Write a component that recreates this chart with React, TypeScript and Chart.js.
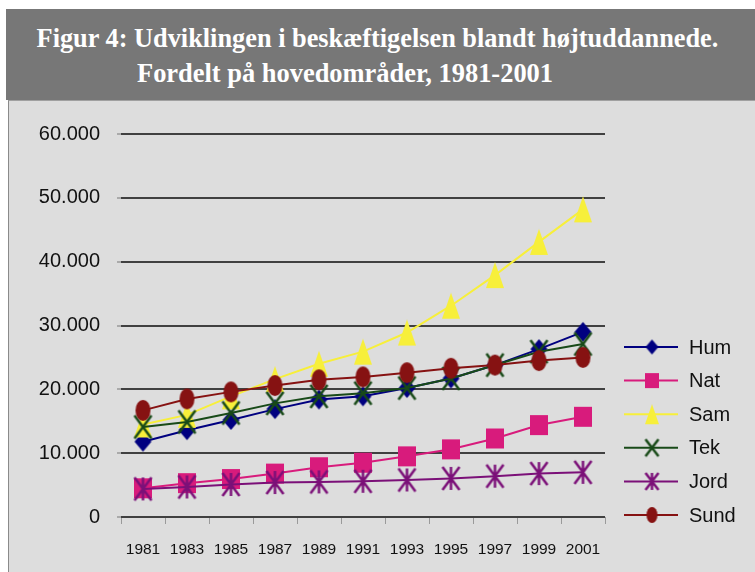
import React, { useEffect, useRef } from "react";
import { Chart, registerables } from "chart.js";

Chart.register(...registerables);

const years = ["1981", "1983", "1985", "1987", "1989", "1991", "1993", "1995", "1997", "1999", "2001"];
const seriesNames = ["Hum", "Nat", "Sam", "Tek", "Jord", "Sund"];
const hum = [11800, 13600, 15200, 16900, 18400, 18900, 20200, 21700, 23800, 26300, 29000];
const nat = [4500, 5300, 5950, 6800, 7800, 8500, 9500, 10600, 12300, 14400, 15700];
const sam = [14500, 16000, 18900, 21600, 24000, 25900, 28900, 33100, 37900, 43100, 48200];
const tek = [14100, 14900, 16300, 17800, 18900, 19400, 20200, 21700, 23800, 25900, 27100];
const jord = [4400, 4700, 5100, 5400, 5500, 5600, 5800, 6050, 6400, 6800, 7000];
const sund = [16700, 18500, 19600, 20600, 21500, 21950, 22600, 23300, 23800, 24500, 25000];
const yTicks = [0, 10000, 20000, 30000, 40000, 50000, 60000];

const colors = ["#000080", "#d81b7c", "#f7ef3a", "#184a18", "#7b1078", "#861212"];
const shapes = ["diamond", "square", "triangle", "x", "star", "ellipse"];
const sizes: [number, number][] = [
  [17, 20],
  [18, 20],
  [18, 26],
  [17, 23],
  [17, 23],
  [15, 21],
];

function makeMarker(shape: string, color: string, w: number, h: number): HTMLCanvasElement {
  const m = 2;
  const c = document.createElement("canvas");
  c.width = w + 2 * m;
  c.height = h + 2 * m;
  const ctx = c.getContext("2d")!;
  ctx.translate(m, m);
  ctx.fillStyle = color;
  ctx.strokeStyle = color;
  ctx.lineWidth = 2.5;
  ctx.beginPath();
  if (shape === "diamond") {
    ctx.moveTo(w / 2, 0);
    ctx.lineTo(w, h / 2);
    ctx.lineTo(w / 2, h);
    ctx.lineTo(0, h / 2);
    ctx.closePath();
    ctx.fill();
  } else if (shape === "square") {
    ctx.rect(0, 0, w, h);
    ctx.fill();
  } else if (shape === "triangle") {
    ctx.moveTo(w / 2, 0);
    ctx.lineTo(w, h);
    ctx.lineTo(0, h);
    ctx.closePath();
    ctx.fill();
  } else if (shape === "x") {
    ctx.moveTo(0, 0);
    ctx.lineTo(w, h);
    ctx.moveTo(w, 0);
    ctx.lineTo(0, h);
    ctx.stroke();
  } else if (shape === "star") {
    ctx.moveTo(0, 0);
    ctx.lineTo(w, h);
    ctx.moveTo(w, 0);
    ctx.lineTo(0, h);
    ctx.moveTo(w / 2, 0);
    ctx.lineTo(w / 2, h);
    ctx.stroke();
  } else {
    ctx.ellipse(w / 2, h / 2, w / 2, h / 2, 0, 0, Math.PI * 2);
    ctx.fill();
  }
  return c;
}

function fmt(v: number): string {
  if (v === 0) return "0";
  const s = String(Math.round(v));
  return s.replace(/\B(?=(\d{3})+(?!\d))/g, ".");
}

export default function App() {
  const ref = useRef<HTMLCanvasElement | null>(null);

  useEffect(() => {
    if (!ref.current) return;
    const values = [hum, nat, sam, tek, jord, sund];
    const markers = shapes.map((s, i) => makeMarker(s, colors[i], sizes[i][0], sizes[i][1]));
    const legendMarkers = shapes.map((s, i) =>
      makeMarker(s, colors[i], Math.round(sizes[i][0] * 0.75), Math.round(sizes[i][1] * 0.75))
    );

    const legendPlugin = {
      id: "customLegend",
      afterDraw(chart: any) {
        const ctx = chart.ctx;
        ctx.save();
        const top = 347;
        const gap = 33.6;
        seriesNames.forEach((name, i) => {
          const y = top + i * gap;
          ctx.strokeStyle = colors[i];
          ctx.lineWidth = 2;
          ctx.beginPath();
          ctx.moveTo(624, y);
          ctx.lineTo(678, y);
          ctx.stroke();
          const mk = legendMarkers[i];
          ctx.drawImage(mk, 652 - mk.width / 2, y - mk.height / 2);
          ctx.fillStyle = "#111";
          ctx.font = "20px 'Liberation Sans', Arial, sans-serif";
          ctx.textBaseline = "middle";
          ctx.textAlign = "left";
          ctx.fillText(name, 689, y + 1);
        });
        ctx.restore();
      },
    };

    const chart = new Chart(ref.current, {
      type: "line",
      data: {
        labels: years,
        datasets: seriesNames.map((name, i) => ({
          label: name,
          data: values[i],
          borderColor: colors[i],
          backgroundColor: colors[i],
          borderWidth: 2,
          pointStyle: markers[i] as any,
          pointRadius: 10,
          pointHoverRadius: 10,
          tension: 0,
          fill: false,
          order: 6 - i,
        })),
      },
      options: {
        responsive: false,
        animation: false,
        events: [],
        layout: { padding: { top: 134, right: 150, bottom: 0, left: 0 } },
        plugins: {
          legend: { display: false },
          title: { display: false },
          tooltip: { enabled: false },
        },
        scales: {
          x: {
            offset: true,
            grid: {
              offset: true,
              drawOnChartArea: false,
              drawTicks: true,
              tickLength: 7,
              tickColor: "#9a9a9a",
              tickWidth: 1,
            },
            border: { display: false },
            ticks: {
              color: "#111",
              font: { size: 15.5, family: "'Liberation Sans', Arial, sans-serif" },
              padding: 16,
              maxRotation: 0,
              autoSkip: false,
            },
            afterFit: (scale: any) => {
              scale.height = 55;
            },
          },
          y: {
            min: 0,
            max: 60000,
            afterBuildTicks: (scale: any) => {
              scale.ticks = yTicks.map((v) => ({ value: v }));
            },
            grid: {
              color: "#404040",
              lineWidth: 2,
              drawTicks: true,
              tickLength: 4,
              tickColor: "#aaaaaa",
            },
            border: { display: false },
            ticks: {
              color: "#111",
              font: { size: 20, family: "'Liberation Sans', Arial, sans-serif" },
              padding: 17,
              callback: (v: any) => fmt(Number(v)),
            },
            afterFit: (scale: any) => {
              scale.width = 121;
            },
          },
        },
      },
      plugins: [legendPlugin],
    });
    return () => chart.destroy();
  }, []);

  const titleFont = {
    color: "#ffffff",
    fontFamily: "'Liberation Serif', 'Times New Roman', serif",
    fontWeight: "bold" as const,
    fontSize: 28,
    lineHeight: "35px",
    whiteSpace: "nowrap" as const,
  };

  return (
    <div style={{ position: "fixed", left: 0, top: 0, width: 755, height: 572, background: "#ffffff", overflow: "hidden" }}>
      <div
        style={{
          position: "absolute",
          left: 6,
          top: 9,
          width: 749,
          height: 91,
          background: "#777777",
        }}
      />
      <div
        style={{
          position: "absolute",
          left: 8,
          top: 100,
          width: 747,
          height: 472,
          background: "#dddddd",
          borderLeft: "1px solid #8a8a8a",
          borderTop: "1px solid #a0a0a0",
          boxSizing: "border-box",
        }}
      />
      <div
        style={{
          ...titleFont,
          position: "absolute",
          left: 0,
          width: 755,
          top: 20,
          textAlign: "center",
          transform: "scaleX(0.94)",
          transformOrigin: "377px 0",
        }}
      >
        Figur 4: Udviklingen i beskæftigelsen blandt højtuddannede.
      </div>
      <div
        style={{
          ...titleFont,
          position: "absolute",
          left: 137,
          top: 55,
          transform: "scaleX(0.944)",
          transformOrigin: "0 0",
        }}
      >
        Fordelt på hovedområder, 1981-2001
      </div>
      <canvas ref={ref} width={755} height={572} style={{ position: "absolute", left: 0, top: 0, width: 755, height: 572 }} />
    </div>
  );
}
